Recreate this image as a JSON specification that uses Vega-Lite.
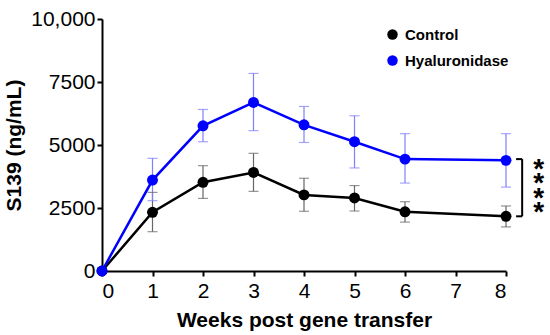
{
  "$schema": "https://vega.github.io/schema/vega-lite/v6.json",
  "width": 404,
  "height": 252,
  "autosize": "none",
  "padding": {"left": 102, "top": 19, "right": 44, "bottom": 64},
  "background": "white",
  "config": {
    "view": {"stroke": null},
    "font": "Liberation Sans",
    "axis": {"grid": false, "domainColor": "black", "domainWidth": 2, "tickColor": "black", "tickWidth": 2, "tickSize": 5, "labelColor": "black", "titleColor": "black", "labelFont": "Liberation Sans", "titleFont": "Liberation Sans", "labelFontSize": 21, "titleFontSize": 21, "titleFontWeight": "bold"}
  },
  "datasets": {
    "series": [
      {"week": 0, "group": "Control", "mean": 0, "lo": null, "hi": null},
      {"week": 1, "group": "Control", "mean": 2330, "lo": 1560, "hi": 3120},
      {"week": 2, "group": "Control", "mean": 3520, "lo": 2880, "hi": 4180},
      {"week": 3, "group": "Control", "mean": 3910, "lo": 3160, "hi": 4670},
      {"week": 4, "group": "Control", "mean": 3020, "lo": 2370, "hi": 3680},
      {"week": 5, "group": "Control", "mean": 2900, "lo": 2380, "hi": 3390},
      {"week": 6, "group": "Control", "mean": 2350, "lo": 1940, "hi": 2750},
      {"week": 8, "group": "Control", "mean": 2170, "lo": 1750, "hi": 2580},
      {"week": 0, "group": "Hyaluronidase", "mean": 0, "lo": null, "hi": null},
      {"week": 1, "group": "Hyaluronidase", "mean": 3610, "lo": 2790, "hi": 4470},
      {"week": 2, "group": "Hyaluronidase", "mean": 5760, "lo": 5130, "hi": 6410},
      {"week": 3, "group": "Hyaluronidase", "mean": 6690, "lo": 5570, "hi": 7840},
      {"week": 4, "group": "Hyaluronidase", "mean": 5800, "lo": 5100, "hi": 6530},
      {"week": 5, "group": "Hyaluronidase", "mean": 5130, "lo": 4090, "hi": 6160},
      {"week": 6, "group": "Hyaluronidase", "mean": 4440, "lo": 3490, "hi": 5450},
      {"week": 8, "group": "Hyaluronidase", "mean": 4390, "lo": 3330, "hi": 5450}
    ],
    "bracket": [
      {"x": 8.32, "x2": 8.32, "y": 2170, "y2": 4440},
      {"x": 8.2, "x2": 8.32, "y": 4440, "y2": 4440},
      {"x": 8.2, "x2": 8.32, "y": 2170, "y2": 2170}
    ],
    "stars": [
      {"x": 8.65, "y": 4250, "label": "*"},
      {"x": 8.65, "y": 3680, "label": "*"},
      {"x": 8.65, "y": 3110, "label": "*"},
      {"x": 8.65, "y": 2540, "label": "*"}
    ]
  },
  "layer": [
    {
      "data": {"name": "series"},
      "transform": [{"filter": "datum.hi != null"}],
      "mark": {"type": "rule", "strokeWidth": 1.2},
      "encoding": {
        "x": {"field": "week", "type": "quantitative", "scale": {"domain": [0, 8]}, "axis": {"values": [0,1,2,3,4,5,6,7,8], "title": "Weeks post gene transfer", "labelPadding": 4, "titlePadding": 8}},
        "y": {"field": "lo", "type": "quantitative", "scale": {"domain": [0, 10000]}, "axis": {"values": [0, 2500, 5000, 7500, 10000], "labelExpr": "datum.value == 10000 ? '10,000' : datum.value", "title": "S139 (ng/mL)", "labelPadding": 2, "titlePadding": 6}},
        "y2": {"field": "hi"},
        "color": {"field": "group", "type": "nominal", "scale": {"domain": ["Control", "Hyaluronidase"], "range": ["#666666", "#7f7fff"]}, "legend": null}
      }
    },
    {
      "data": {"name": "series"},
      "transform": [{"filter": "datum.hi != null"}],
      "mark": {"type": "tick", "orient": "horizontal", "size": 10, "thickness": 1.2},
      "encoding": {
        "x": {"field": "week", "type": "quantitative"},
        "y": {"field": "lo", "type": "quantitative"},
        "color": {"field": "group", "type": "nominal", "scale": {"domain": ["Control", "Hyaluronidase"], "range": ["#666666", "#7f7fff"]}, "legend": null}
      }
    },
    {
      "data": {"name": "series"},
      "transform": [{"filter": "datum.hi != null"}],
      "mark": {"type": "tick", "orient": "horizontal", "size": 10, "thickness": 1.2},
      "encoding": {
        "x": {"field": "week", "type": "quantitative"},
        "y": {"field": "hi", "type": "quantitative"},
        "color": {"field": "group", "type": "nominal", "scale": {"domain": ["Control", "Hyaluronidase"], "range": ["#666666", "#7f7fff"]}, "legend": null}
      }
    },
    {
      "data": {"name": "series"},
      "mark": {"type": "line", "strokeWidth": 2.5, "point": {"type": "circle", "size": 120, "opacity": 1, "filled": true}},
      "encoding": {
        "x": {"field": "week", "type": "quantitative"},
        "y": {"field": "mean", "type": "quantitative"},
        "order": {"field": "week"},
        "color": {"field": "group", "type": "nominal", "scale": {"domain": ["Control", "Hyaluronidase"], "range": ["#000000", "#0000ff"]}, "legend": {"title": null, "orient": "none", "legendX": 283, "legendY": 8, "symbolType": "circle", "symbolSize": 110, "symbolStrokeWidth": 0, "labelFontSize": 15, "labelFontWeight": "bold", "labelFont": "Liberation Sans", "labelColor": "black", "rowPadding": 10, "labelOffset": 5}}
      }
    },
    {
      "data": {"name": "bracket"},
      "mark": {"type": "rule", "strokeWidth": 2, "color": "black"},
      "encoding": {
        "x": {"field": "x", "type": "quantitative"},
        "x2": {"field": "x2"},
        "y": {"field": "y", "type": "quantitative"},
        "y2": {"field": "y2"}
      }
    },
    {
      "data": {"name": "stars"},
      "mark": {"type": "text", "fontSize": 28, "fontWeight": "bold", "align": "center", "baseline": "middle", "dy": 6, "color": "black", "font": "Liberation Sans"},
      "encoding": {
        "x": {"field": "x", "type": "quantitative"},
        "y": {"field": "y", "type": "quantitative"},
        "text": {"field": "label"}
      }
    }
  ],
  "resolve": {"scale": {"color": "independent"}}
}
